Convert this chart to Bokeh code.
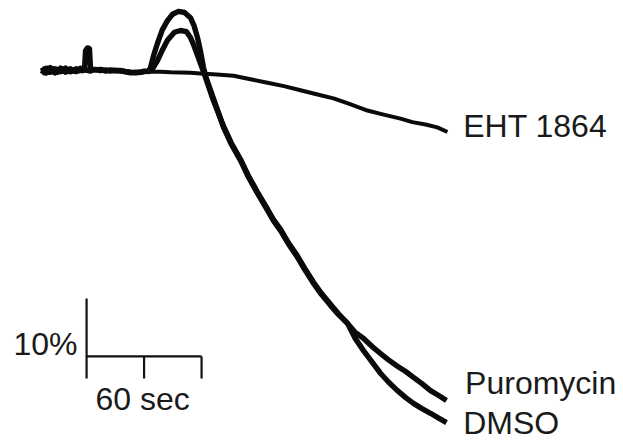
from bokeh.plotting import figure
from bokeh.models import Range1d
from bokeh.core.properties import value
from bokeh.embed import file_html
from bokeh.resources import INLINE

# time (s) and % change
base_t = [0, 2, 4, 6, 8.3, 10.5, 13, 15.5, 18.8, 21, 24, 26.5, 29.2, 32, 35, 37.5, 39.7, 42.5]
base_dmso = [0.5, -0.4, 0.4, -0.3, 0.5, -0.2, 0.3, -0.3, 0.4, -0.1, 0.4, 0.0, 0.3, -0.1, 0.3, 0.0, 0.4, 0.2]
base_puro = [-0.6, 0.3, -0.4, 0.4, -0.3, 0.3, -0.4, 0.2, -0.2, 0.3, -0.3, 0.2, -0.2, 0.1, -0.2, 0.2, 0.0, 0.0]
base_eht = [0.0, 0.2, -0.5, 0.1, -0.3, 0.0, 0.0, -0.4, -0.1, 0.0, 0.1, -0.3, 0.0, 0.1, -0.1, -0.2, 0.0, -0.1]

dmso_t = [43.9, 44.9, 47, 49, 50.1, 55, 60.5, 66, 71, 76, 81.4, 86, 91.8, 97, 102.3, 106, 110.6,
          112.7, 116, 120, 125, 130.4, 135.7, 141.9, 148.2, 154.4, 158, 161.7, 165, 168, 171.1,
          180, 188.9, 197, 206.6, 215, 224.4, 233, 241, 248.4, 257, 266.1, 274, 282.8, 291,
          300.5, 309, 318.3, 326, 335, 344, 352.7, 361, 370.4, 379, 387.1, 396, 404.9, 413, 421.6]
dmso_v = [0.3, 3.4, 3.9, 3.8, 0.3, 0.1, 0.2, -0.1, 0.1, 0.0, 0.0, -0.2, -0.3, -0.4, -0.3, -0.1, -0.2,
          0.5, 2.6, 4.7, 7.0, 8.6, 9.7, 10.2, 10.0, 9.1, 7.8, 5.7, 3.2, 0.5, -1.4,
          -5.6, -9.8, -12.7, -15.5, -18.4, -21.2, -23.6, -25.9, -27.6, -30.0, -32.2, -34.4, -36.7, -38.6,
          -40.5, -42.1, -43.6, -46.1, -48.3, -50.3, -52.2, -53.7, -55.2, -56.4, -57.4, -58.3, -59.1, -59.9, -60.7]

puro_t = [43.9, 50.1, 55, 60.5, 66, 71, 76, 81.4, 86, 91.8, 97, 102.3, 106, 110.6,
          114.8, 117, 120, 125, 130.4, 137.7, 144, 150.3, 154.4, 157.5, 160.7, 164.9, 169.1,
          178, 188.9, 197, 206.6, 215, 224.4, 233, 241, 248.4, 257, 266.1, 274, 282.8, 291,
          300.5, 309, 318.3, 326, 335, 344, 352.7, 361, 370.4, 379, 387.1, 396, 404.9, 413, 421.6]
puro_v = [0.1, -0.1, 0.2, 0.0, 0.1, -0.1, 0.0, -0.1, -0.2, -0.4, -0.3, -0.3, -0.2, -0.1,
          0.3, 0.9, 1.7, 3.5, 5.2, 6.6, 6.9, 6.7, 5.7, 4.5, 3.1, 1.2, -0.7,
          -5.0, -9.6, -12.5, -15.3, -18.2, -21.0, -23.4, -25.7, -27.4, -29.8, -32.0, -34.2, -36.5, -38.4,
          -40.3, -42.0, -43.6, -45.1, -46.2, -47.6, -48.8, -49.9, -51.0, -51.9, -52.9, -54.0, -55.2, -56.0, -56.9]

eht_t = [43.9, 50.1, 60.5, 71, 81.4, 91.8, 102.3, 112.7, 123.1, 133.6, 144, 154.4, 164.9,
         182, 199.3, 217, 234.8, 252, 269.2, 286, 303.7, 321, 339.1, 356, 373.6, 386, 399.7, 412, 422.6]
eht_v = [0.0, 0.1, 0.0, -0.1, 0.1, -0.2, -0.3, -0.2, -0.2, -0.3, -0.35, -0.4, -0.5,
         -0.7, -0.9, -1.5, -2.1, -2.7, -3.4, -4.1, -4.8, -5.8, -6.9, -7.6, -8.3, -8.9, -9.3, -9.8, -10.6]

labels = ["EHT 1864", "Puromycin", "DMSO"]
label_t = [439, 441, 439]
label_v = [-9.5, -53.8, -60.7]

# scale bar: 10 % vertical, 60 s per tick interval
bar_t0 = 46
bar_dt = 60
bar_v0 = -49.3
bar_dv = 10
bar_tick = 3.8

p = figure(width=623, height=442, output_backend="svg", toolbar_location=None,
           x_range=Range1d(-43.83, 606.3), y_range=Range1d(-64.14, 12.07),
           min_border=0, outline_line_color=None)
p.axis.visible = False
p.grid.visible = False
p.background_fill_color = "white"

col = "#0a0a0a"
p.line(base_t + eht_t, base_eht + eht_v, line_color=col, line_width=4.0, line_join="round")
p.line(base_t + puro_t, base_puro + puro_v, line_color=col, line_width=5.4, line_join="round")
p.line(base_t + dmso_t, base_dmso + dmso_v, line_color=col, line_width=5.4, line_join="round")

# scale bar
p.segment(x0=[bar_t0, bar_t0, bar_t0 + bar_dt, bar_t0 + 2 * bar_dt],
          y0=[bar_v0 + bar_dv, bar_v0, bar_v0, bar_v0],
          x1=[bar_t0, bar_t0 + 2 * bar_dt, bar_t0 + bar_dt, bar_t0 + 2 * bar_dt],
          y1=[bar_v0 - bar_tick, bar_v0, bar_v0 - bar_tick, bar_v0 - bar_tick],
          line_color="#111111", line_width=2.2)

font = value("Liberation Sans")
size = value("32px")
p.text(x=label_t, y=label_v, text=labels, text_font=font,
       text_font_size=size, text_color="#1a1a1a", text_baseline="alphabetic")
p.text(x=[bar_t0 - 76.3], y=[bar_v0 + 2.2], text=["10%"], text_font=font,
       text_font_size=size, text_color="#1a1a1a", text_baseline="alphabetic")
p.text(x=[bar_t0 + 9.3], y=[bar_v0 - 7.3], text=["60 sec"], text_font=font,
       text_font_size=size, text_color="#1a1a1a", text_baseline="alphabetic")

open("out.html", "w").write(file_html(p, INLINE))
